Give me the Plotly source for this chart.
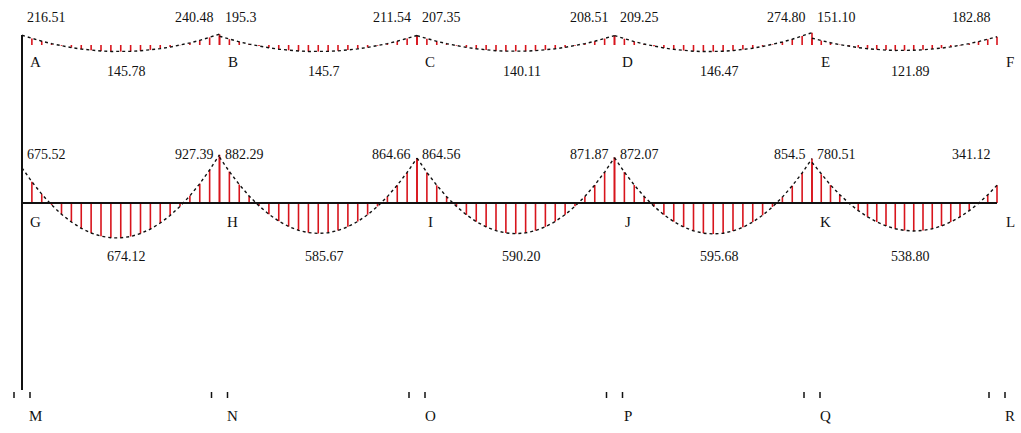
import plotly.graph_objects as go

# ---- frame layout (drawing units, x to the right, y downward) ----
node_x = [22, 219.5, 417, 614.5, 812, 997]
roof_nodes = ["A", "B", "C", "D", "E", "F"]
floor_nodes = ["G", "H", "I", "J", "K", "L"]
base_nodes = ["M", "N", "O", "P", "Q", "R"]

roof_y = 45
floor_y = 203
base_y = 390

# stations along each span (fraction of span length)
stations = [i / 20 for i in range(21)]

# ---- bending moments, kN·m (hogging negative, sagging positive) ----
roof_moments = [
    [-216.5, -146.6, -84.2, -29.2, 18.2, 58.2, 90.7, 115.7, 133.2, 143.2, 145.8,
     140.8, 128.4, 108.5, 81.1, 46.2, 3.8, -46.0, -103.4, -168.2, -240.5],
    [-195.3, -129.8, -71.2, -19.6, 24.9, 62.4, 93.1, 116.7, 133.4, 143.0, 145.7,
     141.4, 130.2, 111.8, 86.6, 54.3, 15.1, -31.0, -84.2, -144.4, -211.5],
    [-207.4, -141.3, -82.2, -30.0, 15.2, 53.4, 84.7, 108.9, 126.3, 136.7, 140.1,
     136.6, 126.1, 108.6, 84.2, 52.8, 14.5, -30.8, -83.1, -142.4, -208.5],
    [-209.3, -138.7, -75.9, -21.0, 26.2, 65.8, 97.4, 121.3, 137.5, 145.9, 146.5,
     139.3, 124.4, 101.6, 71.2, 33.0, -13.1, -66.9, -128.3, -197.7, -274.8],
    [-151.1, -97.8, -50.3, -8.6, 27.4, 57.7, 82.1, 100.7, 113.5, 120.6, 121.9,
     117.4, 107.1, 91.1, 69.4, 41.8, 8.4, -30.8, -75.7, -126.4, -182.9],
]
floor_moments = [
    [-675.5, -408.3, -170.5, 37.9, 216.7, 366.2, 486.1, 576.6, 637.7, 669.3, 671.4,
     644.1, 587.4, 501.1, 385.4, 240.3, 65.6, -138.4, -372.0, -635.0, -927.4],
    [-882.3, -604.2, -355.2, -135.4, 55.1, 216.5, 348.7, 451.7, 525.6, 570.2, 585.6,
     572.0, 529.1, 457.0, 355.7, 225.3, 65.7, -123.1, -341.1, -588.3, -864.7],
    [-864.6, -587.8, -340.3, -121.9, 67.4, 227.4, 358.3, 460.1, 532.6, 575.9, 590.2,
     575.2, 531.1, 457.9, 355.4, 223.8, 63.0, -127.0, -346.1, -594.4, -871.9],
    [-872.1, -594.0, -345.1, -125.3, 65.1, 226.5, 358.7, 461.8, 535.6, 580.2, 595.7,
     582.0, 539.1, 467.1, 365.7, 235.3, 75.7, -113.0, -331.1, -578.2, -854.5],
    [-780.5, -551.7, -344.7, -159.5, 4.1, 145.7, 265.7, 363.9, 440.2, 494.8, 527.7,
     538.8, 528.1, 495.7, 441.5, 365.4, 267.7, 148.1, 6.8, -156.3, -341.1],
]

# printed values: (left end, right end) and span maximum
roof_end_labels = [("216.51", "240.48"), ("195.3", "211.54"), ("207.35", "208.51"),
                   ("209.25", "274.80"), ("151.10", "182.88")]
roof_span_labels = ["145.78", "145.7", "140.11", "146.47", "121.89"]
floor_end_labels = [("675.52", "927.39"), ("882.29", "864.66"), ("864.56", "871.87"),
                    ("872.07", "854.5"), ("780.51", "341.12")]
floor_span_labels = ["674.12", "585.67", "590.20", "595.68", "538.80"]

roof_scale = 0.045   # drawing units per kN·m
floor_scale = 0.052

HATCH = "#d8141c"
INK = "#111111"
FONT = "Liberation Serif"

fig = go.Figure()


def draw_beam(moments, y0, scale):
    hx, hy, cx, cy = [], [], [], []
    for i, span in enumerate(moments):
        x0, x1 = node_x[i], node_x[i + 1]
        for t, m in zip(stations, span):
            x = x0 + t * (x1 - x0)
            y = y0 + scale * m
            hx += [x, x, None]
            hy += [y0, y, None]
            cx.append(x)
            cy.append(y)
        cx.append(None)
        cy.append(None)
    fig.add_trace(go.Scatter(x=hx, y=hy, mode="lines",
                             line=dict(color=HATCH, width=1.6),
                             hoverinfo="skip", showlegend=False))
    fig.add_trace(go.Scatter(x=cx, y=cy, mode="lines",
                             line=dict(color=INK, width=1.4, dash="dot"),
                             hoverinfo="skip", showlegend=False))


draw_beam(roof_moments, roof_y, roof_scale)
draw_beam(floor_moments, floor_y, floor_scale)

# floor beam axis and left column
fig.add_trace(go.Scatter(x=[node_x[0], node_x[-1]], y=[floor_y, floor_y], mode="lines",
                         line=dict(color=INK, width=2), hoverinfo="skip", showlegend=False))
fig.add_trace(go.Scatter(x=[node_x[0], node_x[0]], y=[roof_y - 10, base_y], mode="lines",
                         line=dict(color=INK, width=2), hoverinfo="skip", showlegend=False))

# support marks under the base nodes
sx, sy = [], []
for x in node_x:
    for dx in (-8, 8):
        sx += [x + dx, x + dx, None]
        sy += [base_y + 2, base_y + 8, None]
fig.add_trace(go.Scatter(x=sx, y=sy, mode="lines", line=dict(color=INK, width=1.5),
                         hoverinfo="skip", showlegend=False))

ann = []


def label(x, y, text, anchor="center", size=14):
    ann.append(dict(x=x, y=y, text=text, showarrow=False, xanchor=anchor,
                    yanchor="middle", font=dict(family=FONT, size=size, color=INK)))


for names, y in ((roof_nodes, 62), (floor_nodes, 222), (base_nodes, 416)):
    for x, n in zip(node_x, names):
        label(x + 13, y, n, size=15)


def value_labels(ends, spans, y_top, y_bot):
    for i, ((l, r), s) in enumerate(zip(ends, spans)):
        x0, x1 = node_x[i], node_x[i + 1]
        label(x0 + 3, y_top, l, anchor="left")
        label(x1 - 4, y_top, r, anchor="right")
        label((x0 + x1) / 2 + 6, y_bot, s)


value_labels(roof_end_labels, roof_span_labels, 17, 71)
value_labels(floor_end_labels, floor_span_labels, 154, 256)

fig.update_layout(
    width=1021, height=433,
    margin=dict(l=0, r=0, t=0, b=0),
    paper_bgcolor="white", plot_bgcolor="white",
    xaxis=dict(range=[0, 1021], visible=False, fixedrange=True),
    yaxis=dict(range=[433, 0], visible=False, fixedrange=True),
    annotations=ann,
)

fig.write_html("out.html")
